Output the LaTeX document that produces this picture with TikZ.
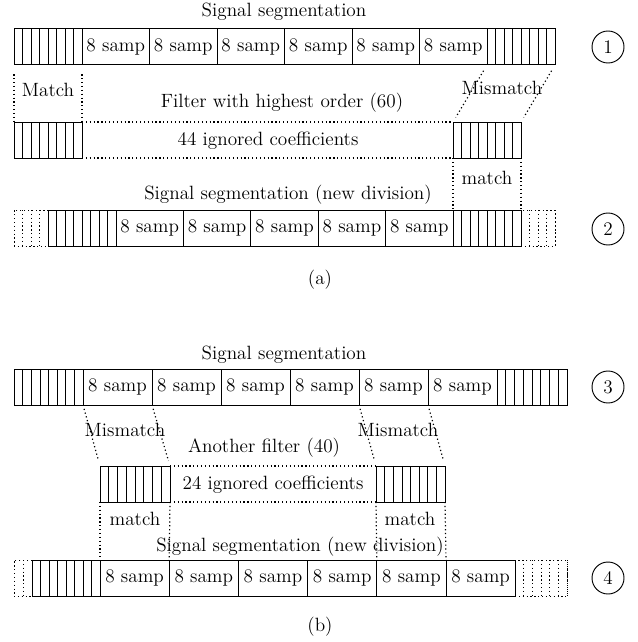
\documentclass[tikz,border=0pt]{standalone}
\usetikzlibrary{calc, positioning}

\tikzset{
  box/.style={draw, minimum height=27pt, inner sep=0pt, outer sep=0pt, font=\Large},
  ghost/.style={dash pattern=on 0.9pt off 2pt},
  guide/.style={line width=0.9pt, dash pattern=on 0.9pt off 2pt},
  caption/.style={font=\Large, inner sep=1pt},
  tag/.style={draw, circle, line width=0.7pt, minimum size=24pt, inner sep=0pt, font=\Large},
}

% block of thin strips: name, left x, right x, top y, strips, line style
\newcommand{\stripbox}[6]{%
  \node[box, #6, minimum width={(#3-#2)*0.75pt}, anchor=north west] (#1) at (#2,#4) {};
  \foreach \k in {1,...,#5}
    \draw[line width=0.55pt, #6] ($(#1.north west)!\k/#5!(#1.north east)$) -- ($(#1.south west)!\k/#5!(#1.south east)$);
}

\begin{document}
\begin{tikzpicture}[x=0.75pt, y=-0.75pt, line width=0.75pt]
\useasboundingbox (0,0) rectangle (638,642);

% (a) first row
\node[caption] (t1) at (284,12) {Signal segmentation};
\stripbox{h1L}{14}{82}{29}{8}{}
\foreach \i in {1,...,6}
  \node[box, minimum width=67.5*0.75pt, anchor=north west] (c1-\i) at ({82+(\i-1)*67.5},29) {8 samp};
\stripbox{h1R}{487}{555}{29}{8}{}
\node[tag] (n1) at (608,47) {1};

% (a) filter
\stripbox{f1L}{14}{82}{122}{8}{}
\stripbox{f1R}{453}{521}{122}{8}{}
\draw[guide] (f1L.north east) -- (f1R.north west);
\draw[guide] (f1L.south east) -- (f1R.south west);
\node[caption] (o1) at (282,103) {Filter with highest order (60)};
\node[caption] (k1) at (268,141) {44 ignored coefficients};

\draw[guide, shorten <=7pt] (h1L.south west) -- (f1L.north west);
\draw[guide, shorten <=7pt] (h1L.south east) -- (f1L.north east);
\node[caption] (m1) at (48,90) {Match};
\draw[guide, shorten <=5pt, shorten >=4pt] (h1R.south west) -- (f1R.north west);
\draw[guide, shorten <=5pt, shorten >=4pt] (h1R.south east) -- (f1R.north east);
\node[caption] (m2) at (502,88) {Mismatch};

% (a) second row
\node[caption] (t2) at (288,195) {Signal segmentation (new division)};
\stripbox{d2L}{14}{48}{210}{4}{ghost}
\stripbox{h2L}{48}{116}{210}{8}{}
\foreach \i in {1,...,5}
  \node[box, minimum width=67.4*0.75pt, anchor=north west] (c2-\i) at ({116+(\i-1)*67.4},210) {8 samp};
\stripbox{h2R}{453}{521}{210}{8}{}
\stripbox{d2R}{521}{555}{210}{4}{ghost}
\node[tag] (n2) at (608,229) {2};
\draw[guide] (f1R.south west) -- (h2R.north west);
\draw[guide] (f1R.south east) -- (h2R.north east);
\node[caption] (m3) at (487,178) {match};
\node[caption] (sa) at (320,280) {(a)};

% (b) first row
\node[caption] (t3) at (284,355) {Signal segmentation};
\stripbox{h3L}{14}{83}{369}{8}{}
\foreach \i in {1,...,6}
  \node[box, minimum width=69*0.75pt, anchor=north west] (c3-\i) at ({83+(\i-1)*69},369) {8 samp};
\stripbox{h3R}{497}{567}{369}{8}{}
\node[tag] (n3) at (608,387) {3};

% (b) filter
\stripbox{f2L}{100}{170}{466}{8}{}
\stripbox{f2R}{376}{445}{466}{8}{}
\draw[guide] (f2L.north east) -- (f2R.north west);
\draw[guide] (f2L.south east) -- (f2R.south west);
\node[caption] (o2) at (264,448) {Another filter (40)};
\node[caption] (k2) at (273,485) {24 ignored coefficients};

\draw[guide, shorten <=3pt, shorten >=4pt] (c3-1.south west) -- (f2L.north west);
\draw[guide, shorten <=3pt, shorten >=4pt] (c3-1.south east) -- (f2L.north east);
\draw[guide, shorten <=3pt, shorten >=4pt] (c3-5.south west) -- (f2R.north west);
\draw[guide, shorten <=3pt, shorten >=4pt] (c3-5.south east) -- (f2R.north east);
\node[caption] (m4) at (125,430) {Mismatch};
\node[caption] (m5) at (398,430) {Mismatch};

% (b) second row
\node[caption] (t4) at (300,547) {Signal segmentation (new division)};
\stripbox{d4L}{14}{32}{560}{2}{ghost}
\stripbox{h4L}{32}{100}{560}{8}{}
\foreach \i in {1,...,6}
  \node[box, minimum width=69.2*0.75pt, anchor=north west] (c4-\i) at ({100+(\i-1)*69.2},560) {8 samp};
\stripbox{d4R}{515}{567}{560}{6}{ghost}
\node[tag] (n4) at (608,578) {4};
\draw[guide] (f2L.south west) -- (c4-1.north west);
\draw[guide] (f2L.south east) -- (c4-1.north east);
\draw[guide] (f2R.south west) -- (c4-5.north west);
\draw[guide] (f2R.south east) -- (c4-5.north east);
\node[caption] (m6) at (135,519) {match};
\node[caption] (m7) at (410,519) {match};
\node[caption] (sb) at (320,627) {(b)};
\end{tikzpicture}
\end{document}
